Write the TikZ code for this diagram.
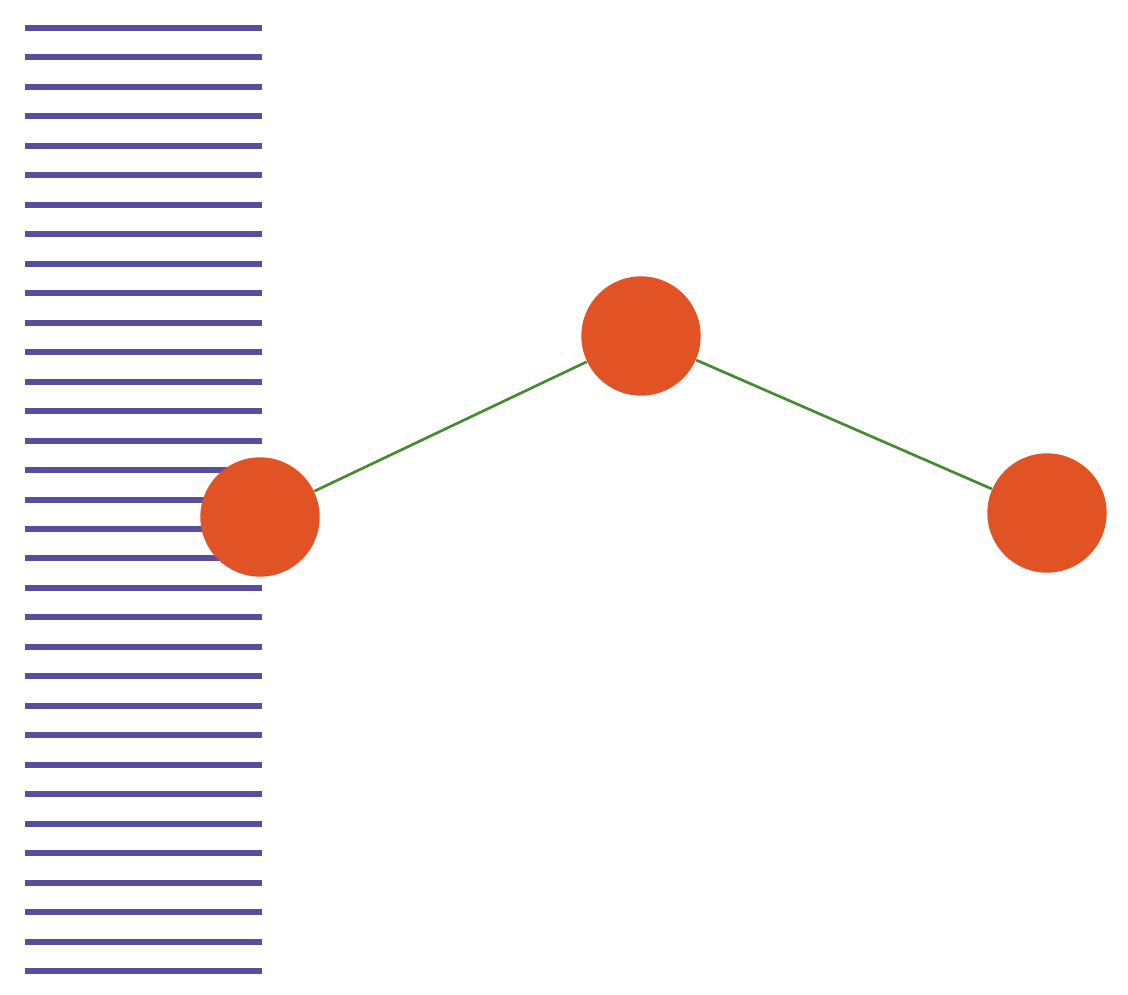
\documentclass[tikz,border=0pt]{standalone}
\definecolor{wallblue}{RGB}{88,78,158}
\definecolor{ballred}{RGB}{225,83,36}
\definecolor{bondgreen}{RGB}{68,138,48}
\tikzset{every picture/.style={line width=0.75pt}}
\tikzset{
  wallline/.style={draw=wallblue,line width=4.5pt},
  atom/.style={circle,fill=ballred,draw=none,minimum size=89.5pt,inner sep=0pt},
  bond/.style={draw=bondgreen,line width=2pt}
}
\begin{document}
\begin{tikzpicture}[x=0.75pt,y=0.75pt,yscale=-1,xscale=1]
\useasboundingbox (0,0) rectangle (1128,995);

%Wall lines
\foreach \i in {0,...,32}
  \draw [wallline] (25,28+29.47*\i) -- (262,28+29.47*\i);

%Atoms
\node [atom] (left) at (260,517) {};
\node [atom] (top) at (641,336) {};
\node [atom] (right) at (1047,513) {};

%Bonds
\draw [bond] (left) -- (top);
\draw [bond] (top) -- (right);

\end{tikzpicture}
\end{document}
